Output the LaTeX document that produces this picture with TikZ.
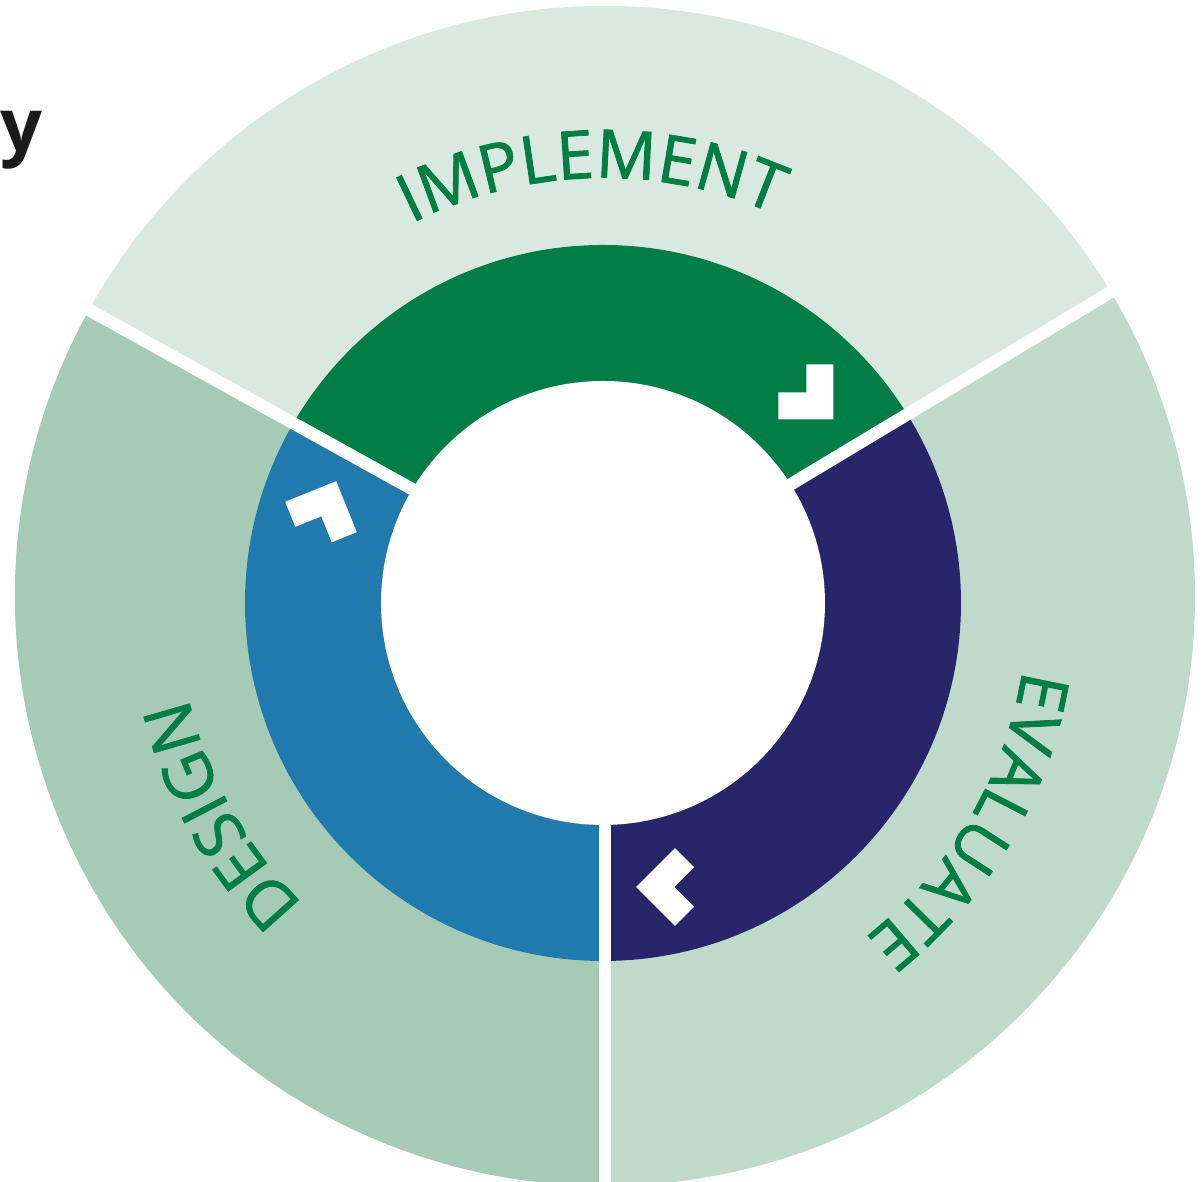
\documentclass[tikz,border=0pt]{standalone}
\usepackage{fontspec}
\setsansfont{Open Sans}
\newfontfamily\ringfont{Open Sans}[BoldFont={Open Sans}, BoldFeatures={FakeBold=1.2}]
\usepackage{tikz}
\usetikzlibrary{calc,decorations.text}
\definecolor{implpale}{HTML}{DAE9E0}
\definecolor{designpale}{HTML}{A5CBB6}
\definecolor{evalpale}{HTML}{BFDACB}
\definecolor{implgreen}{HTML}{007E45}
\definecolor{designblue}{HTML}{217AAD}
\definecolor{evalnavy}{HTML}{27266B}
\definecolor{titleblack}{HTML}{1A1A1A}
\newcommand{\ringlabel}{\ringfont\bfseries\fontsize{19}{20}\selectfont}
\tikzset{
  turnmark/.pic={\fill[white] (0.275,-0.275) -- (-0.275,-0.275) -- (-0.275,-0.005) -- (0.005,-0.005) -- (0.005,0.275) -- (0.275,0.275) -- cycle;},
  arclabel/.style={decorate, decoration={text along path, text align=center, text color=implgreen, text={|\ringlabel|#1}}},
  gap/.style={white, line width=0.125cm}
}

\begin{document}
\begin{tikzpicture}[]
    \useasboundingbox (-6.03,-5.79) rectangle (6.00,6.03);
    \coordinate (O) at (0,0);
    \coordinate (C) at (0.02,0.07);
    \fill[implpale] (C) -- ++(31:5.9) arc[start angle=31, end angle=151, radius=5.9] -- cycle;
    \fill[designpale] (C) -- ++(151:5.9) arc[start angle=151, end angle=270, radius=5.9] -- cycle;
    \fill[evalpale] (C) -- ++(270:5.9) arc[start angle=270, end angle=391, radius=5.9] -- cycle;
    \begin{scope}
        \clip (O) circle (3.58);
        \fill[implgreen] (C) -- ++(31:8) arc[start angle=31, end angle=151, radius=8] -- cycle;
        \fill[designblue] (C) -- ++(151:8) arc[start angle=151, end angle=270, radius=8] -- cycle;
        \fill[evalnavy] (C) -- ++(270:8) arc[start angle=270, end angle=391, radius=8] -- cycle;
    \end{scope}
    \fill[white] (O) circle (2.22);
    \foreach \a in {31,151,270}
        \draw[gap] (C) -- ++(\a:6.3);

    \path (2.03,2.11) pic{turnmark};
    \path (-2.82,0.86) pic[rotate=112]{turnmark};
    \path (0.72,-2.84) pic[rotate=225]{turnmark};

    \path[arclabel=IMPLEMENT] (151.5:4.25) arc[start angle=151.5, end angle=31.5, radius=4.25];
    \path[arclabel=EVALUATE] (29.5:4.25) arc[start angle=29.5, end angle=-90.5, radius=4.25];
    \path[arclabel=DESIGN] (269:4.25) arc[start angle=269, end angle=149, radius=4.25];

    \node[anchor=base west, inner sep=0pt, text=titleblack, font=\sffamily\bfseries\fontsize{21}{24}\selectfont] (ytag) at (-6.03,4.51) {y};
\end{tikzpicture}
\end{document}
